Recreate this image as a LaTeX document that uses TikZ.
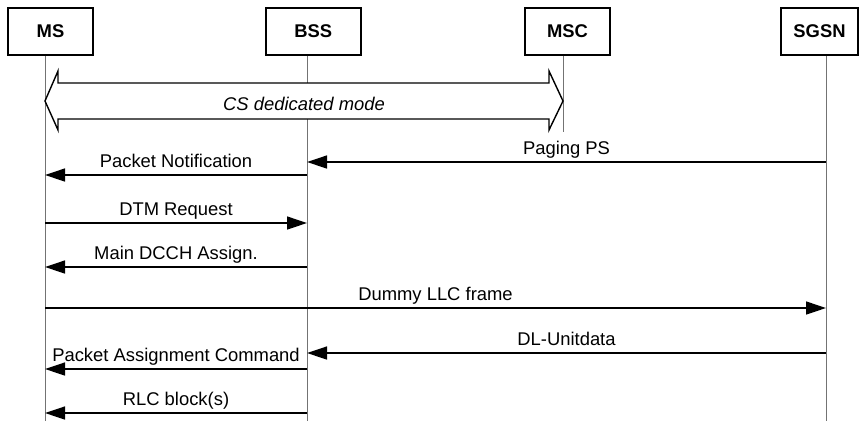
\documentclass[tikz,border=0pt]{standalone}
\usepackage{fontspec}
\setmainfont{Liberation Sans}
\usetikzlibrary{arrows.meta}
\newcommand{\msgfont}{\fontsize{18.4}{22}\selectfont}

\begin{document}
\begin{tikzpicture}[x=1pt,y=-1pt,font=\msgfont,
		ent/.style={draw,fill=white,line width=1.6pt,minimum height=47pt,inner sep=0pt,font=\msgfont\bfseries},
		life/.style={draw=black!55,line width=0.9pt},
		msg/.style={line width=1.3pt,arrows={-Triangle[length=20pt,width=13pt]}},
		lbl/.style={midway,anchor=base,yshift=8pt,inner sep=0pt}]
		\useasboundingbox (0,0) rectangle (859,421);
		%各实体
		\node (MS) [ent,minimum width=85pt] at (50.5,31.5) {MS};
		\node (BSS) [ent,minimum width=95pt] at (313.2,31.5) {BSS};
		\node (MSC) [ent,minimum width=85pt] at (567.5,31.5) {MSC};
		\node (SGSN) [ent,minimum width=77pt] at (819.5,31.5) {SGSN};
		
		%生命线
		\coordinate (ms) at (45,421);
		\coordinate (bss) at (307,421);
		\coordinate (msc) at (563,132);
		\coordinate (sgsn) at (826,421);
		\draw[life] (MS.south -| ms) -- (ms);
		\draw[life] (BSS.south -| bss) -- (bss);
		\draw[life] (MSC.south -| msc) -- (msc);
		\draw[life] (SGSN.south -| sgsn) -- (sgsn);
		
		%CS 专用模式
		\draw[fill=white,line width=1.4pt,line join=miter] (45,101) -- (58,71) -- (58,83) -- (549,83) -- (549,71) -- (563,101)
			-- (549,130) -- (549,119) -- (58,119) -- (58,130) -- cycle;
		\node (csmode) [anchor=base,font=\msgfont\itshape] at (304,110) {CS dedicated mode};
		
		%消息
		\draw[msg] (sgsn |- 0,162) -- (bss |- 0,162) node[lbl]{Paging PS};
		\draw[msg] (bss |- 0,175) -- (ms |- 0,175) node[lbl]{Packet Notification};
		\draw[msg] (ms |- 0,223) -- (bss |- 0,223) node[lbl]{DTM Request};
		\draw[msg] (bss |- 0,267) -- (ms |- 0,267) node[lbl]{Main DCCH Assign.};
		\draw[msg] (ms |- 0,308) -- (sgsn |- 0,308) node[lbl]{Dummy LLC frame};
		\draw[msg] (sgsn |- 0,353) -- (bss |- 0,353) node[lbl]{DL-Unitdata};
		\draw[msg] (bss |- 0,369) -- (ms |- 0,369) node[lbl]{Packet Assignment Command};
		\draw[msg] (bss |- 0,413) -- (ms |- 0,413) node[lbl]{RLC block(s)};
	\end{tikzpicture}
\end{document}
